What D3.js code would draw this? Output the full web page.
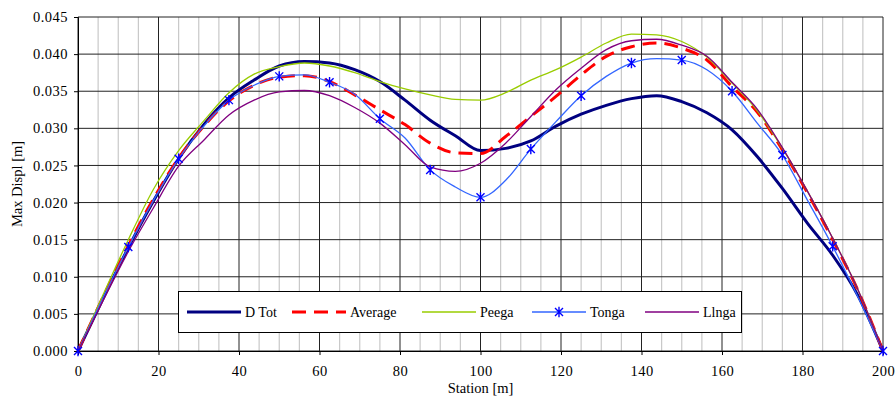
<!DOCTYPE html>
<html>
<head>
<meta charset="utf-8">
<script src="https://cdn.jsdelivr.net/npm/d3@7"></script>
<style>
  body { margin: 0; background: #fff; }
  text { font-family: "Liberation Serif", "Times New Roman", serif !important; }
</style>
</head>
<body>
<div id="chart"></div>
<script>
const stations = [0, 6.25, 12.5, 18.75, 25, 31.25, 37.5, 43.75, 50, 56.25, 62.5, 68.75, 75, 81.25, 87.5, 93.75,
  100, 106.25, 112.5, 118.75, 125, 131.25, 137.5, 143.75, 150, 156.25, 162.5, 168.75, 175, 181.25, 187.5, 193.75, 200];

const dTot = [0, 0.0071, 0.0139, 0.0202, 0.0259, 0.0305, 0.0341, 0.0365, 0.0384, 0.0390, 0.0388, 0.0379, 0.0363, 0.0338,
  0.0311, 0.0290, 0.0270, 0.0273, 0.0283, 0.0303, 0.0319, 0.0331, 0.0340, 0.0344, 0.0336, 0.0321, 0.0298, 0.0262,
  0.0219, 0.0172, 0.0129, 0.0075, 0];
const average = [0, 0.0073, 0.0142, 0.0205, 0.0260, 0.0303, 0.0337, 0.0358, 0.0369, 0.0371, 0.0363, 0.0345, 0.0325,
  0.0305, 0.0280, 0.0267, 0.0266, 0.0289, 0.0316, 0.0343, 0.0372, 0.0397, 0.0410, 0.0415, 0.0408, 0.0392, 0.0356,
  0.0322, 0.0271, 0.0213, 0.0150, 0.0082, 0];
const peega = [0, 0.0076, 0.0150, 0.0218, 0.0270, 0.0310, 0.0348, 0.0373, 0.0383, 0.0388, 0.0384, 0.0375, 0.0363,
  0.0353, 0.0345, 0.0339, 0.0338, 0.0348, 0.0365, 0.0379, 0.0396, 0.0415, 0.0427, 0.0426, 0.0417, 0.0396, 0.0361,
  0.0324, 0.0273, 0.0215, 0.0152, 0.0083, 0];
const tonga = [0, 0.0072, 0.0140, 0.0203, 0.0259, 0.0303, 0.0338, 0.0358, 0.0370, 0.0372, 0.0362, 0.0346, 0.0313,
  0.0287, 0.0244, 0.0221, 0.0207, 0.0230, 0.0272, 0.0309, 0.0344, 0.0370, 0.0388, 0.0394, 0.0392, 0.0379, 0.0350,
  0.0307, 0.0264, 0.0203, 0.0141, 0.0073, 0];
const llnga = [0, 0.0068, 0.0134, 0.0193, 0.0249, 0.0284, 0.0318, 0.0338, 0.0349, 0.0351, 0.0344, 0.0328, 0.0307,
  0.0278, 0.0248, 0.0242, 0.0253, 0.0280, 0.0316, 0.0352, 0.0381, 0.0406, 0.0418, 0.0420, 0.0412, 0.0397, 0.0362,
  0.0326, 0.0274, 0.0215, 0.0152, 0.0083, 0];

const xTicks = [0, 20, 40, 60, 80, 100, 120, 140, 160, 180, 200];
const yTicks = [0, 0.005, 0.01, 0.015, 0.02, 0.025, 0.03, 0.035, 0.04, 0.045];

const series = [
  { name: "D Tot", values: dTot, color: "#000080", width: 3, dash: null, marker: false },
  { name: "Average", values: average, color: "#FF0000", width: 3, dash: "14,8", marker: false },
  { name: "Peega", values: peega, color: "#99CC00", width: 1.3, dash: null, marker: false },
  { name: "Tonga", values: tonga, color: "#3366FF", width: 1.3, dash: null, marker: true },
  { name: "Llnga", values: llnga, color: "#800080", width: 1.3, dash: null, marker: false },
];

const width = 895, height = 403;
const margin = { top: 17, right: 12, bottom: 52, left: 78 };

const svg = d3.select("#chart").append("svg")
  .attr("width", width)
  .attr("height", height);

const x = d3.scaleLinear().domain([0, 200]).range([margin.left, width - margin.right]);
const y = d3.scaleLinear().domain([0, 0.045]).range([height - margin.bottom, margin.top]);

/* grid: light minor verticals every 5, dark majors */
const grid = svg.append("g");
grid.selectAll(".minor")
  .data(d3.range(5, 200, 5).filter((d) => d % 20 !== 0))
  .join("line")
  .attr("x1", (d) => x(d)).attr("x2", (d) => x(d))
  .attr("y1", y(0)).attr("y2", y(0.045))
  .attr("stroke", "#c8c8c8").attr("stroke-width", 1.2);
grid.selectAll(".vmajor")
  .data(xTicks)
  .join("line")
  .attr("x1", (d) => x(d)).attr("x2", (d) => x(d))
  .attr("y1", y(0)).attr("y2", y(0.045))
  .attr("stroke", "#222").attr("stroke-width", 1);
grid.selectAll(".hmajor")
  .data(yTicks)
  .join("line")
  .attr("x1", x(0)).attr("x2", x(200))
  .attr("y1", (d) => y(d)).attr("y2", (d) => y(d))
  .attr("stroke", "#222").attr("stroke-width", 1);

/* axes */
svg.append("g")
  .attr("transform", `translate(0,${y(0)})`)
  .call(d3.axisBottom(x).tickValues(xTicks).tickSize(4).tickPadding(11))
  .attr("font-size", 14.5)
  .call((g) => g.select(".domain").attr("stroke", "#000"))
  .call((g) => g.selectAll("text").attr("fill", "#000").attr("letter-spacing", 0.5));

svg.append("g")
  .attr("transform", `translate(${x(0)},0)`)
  .call(d3.axisLeft(y).tickValues(yTicks).tickFormat(d3.format(".3f")).tickSize(4).tickPadding(6))
  .attr("font-size", 14.5)
  .call((g) => g.select(".domain").attr("stroke", "#000"))
  .call((g) => g.selectAll("text").attr("fill", "#000").attr("letter-spacing", 0.5));

svg.append("text")
  .attr("x", (x(0) + x(200)) / 2)
  .attr("y", 393)
  .attr("text-anchor", "middle")
  .attr("font-size", 14.5)
  .text("Station [m]");

svg.append("text")
  .attr("transform", `translate(22,${(y(0) + y(0.045)) / 2}) rotate(-90)`)
  .attr("text-anchor", "middle")
  .attr("font-size", 14.5)
  .text("Max Displ [m]");

/* lines */
const line = d3.line()
  .x((d, i) => x(stations[i]))
  .y((d) => y(d))
  .curve(d3.curveMonotoneX);

const plot = svg.append("g");
series.forEach((s) => {
  plot.append("path")
    .datum(s.values)
    .attr("d", line)
    .attr("fill", "none")
    .attr("stroke", s.color)
    .attr("stroke-width", s.width)
    .attr("stroke-dasharray", s.dash)
    .attr("stroke-linejoin", "round");
});

function star(g, cx, cy, r) {
  const p = `M${cx - r},${cy - r}L${cx + r},${cy + r}M${cx - r},${cy + r}L${cx + r},${cy - r}M${cx},${cy - r * 1.3}L${cx},${cy + r * 1.3}`;
  g.append("path").attr("d", p).attr("stroke", "#0000FF").attr("stroke-width", 1.4).attr("fill", "none");
}

const markerG = svg.append("g");
tonga.forEach((v, i) => {
  if (i % 2 === 0) star(markerG, x(stations[i]), y(v), 4);
});

/* legend */
const legend = svg.append("g");
legend.append("rect")
  .attr("x", 178.5).attr("y", 291.5)
  .attr("width", 563).attr("height", 41)
  .attr("fill", "#fff").attr("stroke", "#000").attr("stroke-width", 1);

const legendX = [187, 292, 422, 532, 645];
series.forEach((s, i) => {
  const lx = legendX[i];
  const ly = 312;
  legend.append("line")
    .attr("x1", lx).attr("x2", lx + 54)
    .attr("y1", ly).attr("y2", ly)
    .attr("stroke", s.color)
    .attr("stroke-width", s.width)
    .attr("stroke-dasharray", s.dash);
  if (s.marker) star(legend, lx + 27, ly, 4);
  legend.append("text")
    .attr("x", lx + 58)
    .attr("y", ly + 5)
    .attr("font-size", 14)
    .text(s.name);
});
</script>
</body>
</html>
